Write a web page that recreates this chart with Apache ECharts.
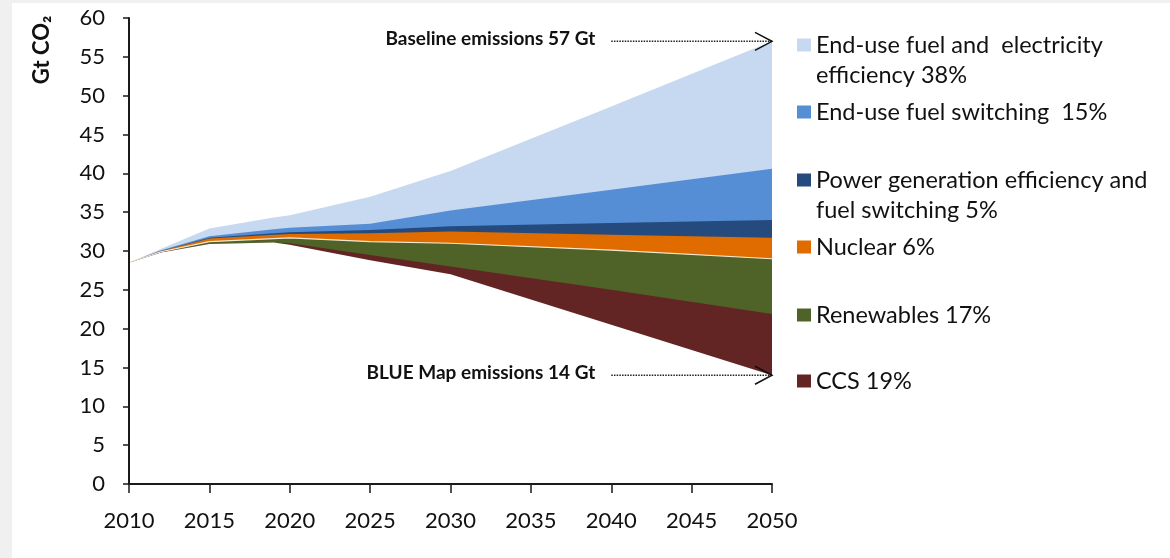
<!DOCTYPE html>
<html>
<head>
<meta charset="utf-8">
<script src="https://cdn.jsdelivr.net/npm/echarts@6/dist/echarts.min.js"></script>
<style>
  html, body { margin: 0; padding: 0; background: #fff; }
  #chart { width: 1170px; height: 558px; }
</style>
</head>
<body>
<div id="chart"></div>
<script>
// years (break points of the areas)
const years = [2010, 2012, 2015, 2019, 2020, 2025, 2030, 2040, 2050]

// upper edge of each band, Gt CO2
const baseline = [28.5, 30.3, 32.9, 34.3, 34.6, 37.0, 40.3, 48.6, 57.0]
const fuelSwitchTop = [28.5, 30.1, 31.9, 32.8, 33.0, 33.5, 35.2, 37.9, 40.6]
const powerGenTop = [28.5, 30.0, 31.7, 32.3, 32.4, 32.7, 33.2, 33.6, 34.0]
const nuclearTop = [28.5, 30.0, 31.6, 32.1, 32.2, 32.3, 32.5, 32.1, 31.7]
const renewablesTop = [28.5, 29.9, 31.2, 31.6, 31.7, 31.2, 31.0, 30.1, 29.0]
const ccsTop = [28.5, 29.8, 30.9, 31.1, 31.0, 29.5, 28.0, 25.0, 21.9]
// BLUE Map emissions, the floor of the wedges
const blueMap = [28.5, 29.8, 30.9, 31.1, 30.8, 28.8, 27.0, 20.5, 14.0]

const seriesNames = [
  'End-use fuel and electricity efficiency 38%',
  'End-use fuel switching  15%',
  'Power generation efficiency and fuel switching 5%',
  'Nuclear 6%',
  'Renewables 17%',
  'CCS 19%'
]
// legend text, broken as in the picture
const legendText = [
  ['End-use fuel and  electricity', 'efficiency 38%'],
  ['End-use fuel switching  15%'],
  ['Power generation efficiency and', 'fuel switching 5%'],
  ['Nuclear 6%'],
  ['Renewables 17%'],
  ['CCS 19%']
]

// annotations
const arrowYears = [2040, 2050]
const baselineTotal = 57
const blueMapTotal = 14
const baselineLabel = 'Baseline emissions 57 Gt'
const blueMapLabel = 'BLUE Map emissions 14 Gt'

const colors = ['#c6d9f1', '#558ed5', '#254a7e', '#e06c00', '#4f6228', '#632523']
const font = 'Lato, "Open Sans", sans-serif'

function pairs(arr) {
  return years.map((y, i) => [y, arr[i]])
}

// every band is an area down to 0; lower bands are drawn over the upper ones
function band(name, arr, color, z, lineColor) {
  return {
    name: name,
    type: 'line',
    data: pairs(arr),
    symbol: 'none',
    smooth: false,
    z: z,
    itemStyle: { color: color },
    lineStyle: lineColor ? { color: lineColor, width: 1.2 } : { width: 0, color: color },
    areaStyle: { color: color, opacity: 1 },
    emphasis: { disabled: true },
    tooltip: { show: false }
  }
}

// legend: centre line (px) of each entry's first line
const legendCenters = [45, 112, 180, 247, 315, 381]

const legends = seriesNames.map((name, i) => {
  const lines = legendText[i]
  // a blank line in front keeps the square level with the first line
  const text = lines.length > 1 ? ' \n' + lines.join('\n') : lines[0]
  return {
    data: [name],
    left: 797,
    top: lines.length > 1 ? legendCenters[i] - 45 : legendCenters[i] - 15,
    padding: 0,
    orient: 'vertical',
    selectedMode: false,
    icon: 'rect',
    itemWidth: 14,
    itemHeight: 13,
    formatter: () => text,
    textStyle: {
      fontFamily: font,
      fontSize: 23.5,
      color: '#111',
      lineHeight: 30
    }
  }
})

const chart = echarts.init(document.getElementById('chart'))

const options = {
  animation: false,
  backgroundColor: '#fff',
  grid: {
    left: 129,
    right: 398,
    top: 18,
    bottom: 74
  },
  legend: legends,
  xAxis: {
    type: 'value',
    min: 2010,
    max: 2050,
    interval: 5,
    z: 10,
    axisLine: { show: true, lineStyle: { color: '#1a1a1a', width: 2 } },
    axisTick: { show: true, length: 9, lineStyle: { color: '#1a1a1a', width: 1.5 } },
    splitLine: { show: false },
    axisLabel: {
      margin: 26,
      fontFamily: font,
      fontSize: 22,
      color: '#111',
      formatter: v => String(v)
    }
  },
  yAxis: {
    type: 'value',
    min: 0,
    max: 60,
    interval: 5,
    z: 10,
    axisLine: { show: true, lineStyle: { color: '#1a1a1a', width: 2 } },
    axisTick: { show: true, length: 6, lineStyle: { color: '#1a1a1a', width: 1.5 } },
    splitLine: { show: false },
    axisLabel: {
      margin: 24,
      fontFamily: font,
      fontSize: 22,
      color: '#111'
    }
  },
  series: [
    band(seriesNames[0], baseline, colors[0], 2),
    band(seriesNames[1], fuelSwitchTop, colors[1], 3),
    band(seriesNames[2], powerGenTop, colors[2], 4),
    band(seriesNames[3], nuclearTop, colors[3], 5),
    band(seriesNames[4], renewablesTop, colors[4], 6, '#f3ead6'),
    band(seriesNames[5], ccsTop, colors[5], 7),
    band('BLUE Map emissions', blueMap, '#ffffff', 8)
  ]
}

chart.setOption(options)

// annotations, placed through the chart's own scales
function note(label, total) {
  const a = chart.convertToPixel({ gridIndex: 0 }, [arrowYears[0], total])
  const b = chart.convertToPixel({ gridIndex: 0 }, [arrowYears[1], total])
  return [
    {
      type: 'text',
      x: a[0] - 16,
      y: a[1] - 2,
      z: 20,
      style: {
        text: label,
        align: 'right',
        verticalAlign: 'middle',
        fontFamily: font,
        fontWeight: 'bold',
        fontSize: 19,
        fill: '#111'
      }
    },
    {
      type: 'polyline',
      z: 20,
      shape: { points: [a, b] },
      style: { stroke: '#222', lineWidth: 1.5, lineDash: [1.5, 1.2] }
    },
    {
      type: 'polyline',
      z: 20,
      shape: { points: [[b[0] - 17, b[1] - 9], [b[0], b[1]], [b[0] - 17, b[1] + 9]] },
      style: { stroke: '#111', lineWidth: 1.5, fill: null }
    }
  ]
}

chart.setOption({
  graphic: [
    { type: 'rect', shape: { x: 0, y: 0, width: 12, height: 558 }, style: { fill: '#f0f0f0' }, silent: true },
    { type: 'rect', shape: { x: 0, y: 0, width: 1170, height: 3 }, style: { fill: '#f0f0f0' }, silent: true },
    {
      type: 'text',
      x: 42,
      y: 50,
      rotation: Math.PI / 2,
      style: {
        text: 'Gt CO\u2082',
        align: 'center',
        verticalAlign: 'middle',
        fontFamily: font,
        fontWeight: 'bold',
        fontSize: 22,
        fill: '#111'
      }
    }
  ].concat(note(baselineLabel, baselineTotal), note(blueMapLabel, blueMapTotal))
})
</script>
</body>
</html>
